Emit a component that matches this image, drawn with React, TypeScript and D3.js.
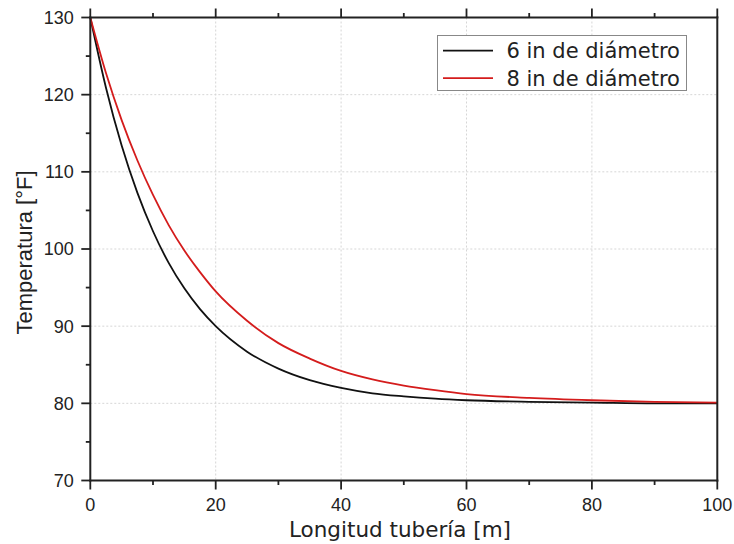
import React, { useRef, useEffect } from 'react';
import * as d3 from 'd3';

// Longitud de tubería [m]
const lengths = [0, 2.5, 5, 7.5, 10, 12.5, 15, 17.5, 20, 25, 30, 35, 40, 45, 50, 55, 60, 70, 80, 90, 100];
// Temperatura [°F], tubería de 6 in
const temp6in = [130, 120.9, 113.4, 107.3, 102.3, 98.2, 94.9, 92.2, 90.0, 86.7, 84.5, 83.0, 82.0, 81.3, 80.9, 80.6, 80.4, 80.2, 80.1, 80.0, 80.0];
// Temperatura [°F], tubería de 8 in
const temp8in = [130, 122.8, 116.7, 111.5, 107.0, 103.1, 99.8, 97.0, 94.5, 90.7, 87.8, 85.8, 84.2, 83.1, 82.3, 81.7, 81.2, 80.7, 80.4, 80.2, 80.1];

const seriesNames = ['6 in de diámetro', '8 in de diámetro'];
const seriesColors = ['#111111', '#d41c1c'];

const xMajorTicks = [0, 20, 40, 60, 80, 100];
const xMinorTicks = [10, 30, 50, 70, 90];
const yMajorTicks = [70, 80, 90, 100, 110, 120, 130];
const yMinorTicks = [75, 85, 95, 105, 115, 125];

const W = 734;
const H = 544;

const App = () => {
  const svgRef = useRef<SVGSVGElement>(null);

  useEffect(() => {
    const svg = d3.select(svgRef.current);
    svg.selectAll('*').remove();

    const left = 90.3, right = 717.3, top = 17.5, bottom = 480.5;
    const x = d3.scaleLinear().domain([0, 100]).range([left, right]);
    const y = d3.scaleLinear().domain([70, 130]).range([bottom, top]);

    svg.append('rect').attr('width', W).attr('height', H).attr('fill', 'white');

    // grid
    const grid = svg.append('g')
      .attr('stroke', '#d6d6d6')
      .attr('stroke-width', 1)
      .attr('stroke-dasharray', '2,2');
    xMajorTicks.slice(1, -1).forEach(t => {
      grid.append('line').attr('x1', x(t)).attr('x2', x(t)).attr('y1', top).attr('y2', bottom);
    });
    yMajorTicks.slice(1, -1).forEach(t => {
      grid.append('line').attr('x1', left).attr('x2', right).attr('y1', y(t)).attr('y2', y(t));
    });

    // curves
    const line = d3.line<number>()
      .x((_, i) => x(lengths[i]))
      .y(d => y(d))
      .curve(d3.curveMonotoneX);

    [temp6in, temp8in].forEach((vals, i) => {
      svg.append('path')
        .datum(vals)
        .attr('d', line)
        .attr('fill', 'none')
        .attr('stroke', seriesColors[i])
        .attr('stroke-width', 1.8);
    });

    // axes
    const axisColor = '#222';
    const axes = svg.append('g').attr('stroke', axisColor).attr('stroke-width', 2);
    axes.append('line').attr('x1', left).attr('x2', left).attr('y1', top - 1).attr('y2', bottom + 1);
    axes.append('line').attr('x1', right).attr('x2', right).attr('y1', top - 1).attr('y2', bottom + 1);
    axes.append('line').attr('x1', left - 1).attr('x2', right + 1).attr('y1', top).attr('y2', top);
    axes.append('line').attr('x1', left - 1).attr('x2', right + 1).attr('y1', bottom).attr('y2', bottom);

    const ticks = svg.append('g').attr('stroke', axisColor).attr('stroke-width', 1.8);
    xMajorTicks.forEach(t => {
      ticks.append('line').attr('x1', x(t)).attr('x2', x(t)).attr('y1', bottom).attr('y2', bottom + 9);
      ticks.append('line').attr('x1', x(t)).attr('x2', x(t)).attr('y1', top).attr('y2', top - 9);
    });
    xMinorTicks.forEach(t => {
      ticks.append('line').attr('x1', x(t)).attr('x2', x(t)).attr('y1', bottom).attr('y2', bottom + 4.5);
      ticks.append('line').attr('x1', x(t)).attr('x2', x(t)).attr('y1', top).attr('y2', top - 4.5);
    });
    yMajorTicks.forEach(t => {
      ticks.append('line').attr('x1', left).attr('x2', left - 9).attr('y1', y(t)).attr('y2', y(t));
    });
    yMinorTicks.forEach(t => {
      ticks.append('line').attr('x1', left).attr('x2', left - 4.5).attr('y1', y(t)).attr('y2', y(t));
    });

    // tick labels
    svg.append('g')
      .selectAll('text')
      .data(xMajorTicks)
      .enter()
      .append('text')
      .attr('x', d => x(d))
      .attr('y', bottom + 30.5)
      .attr('text-anchor', 'middle')
      .style('font-family', '"Liberation Sans", Arial, sans-serif')
      .style('font-size', '18px')
      .style('fill', '#222')
      .text(d => d);

    svg.append('g')
      .selectAll('text')
      .data(yMajorTicks)
      .enter()
      .append('text')
      .attr('x', left - 16.5)
      .attr('y', d => y(d))
      .attr('dy', '0.36em')
      .attr('text-anchor', 'end')
      .style('font-family', '"Liberation Sans", Arial, sans-serif')
      .style('font-size', '18px')
      .style('fill', '#222')
      .text(d => d);

    // axis titles
    svg.append('text')
      .attr('x', 400)
      .attr('y', 537)
      .attr('text-anchor', 'middle')
      .style('font-family', '"DejaVu Sans", sans-serif')
      .style('font-size', '21.5px')
      .style('fill', '#222')
      .text('Longitud tubería [m]');

    svg.append('text')
      .attr('transform', 'translate(32, 252.5) rotate(-90)')
      .attr('text-anchor', 'middle')
      .style('font-family', '"Liberation Sans", Arial, sans-serif')
      .style('font-size', '22px')
      .style('fill', '#222')
      .text('Temperatura [°F]');

    // legend
    const legend = svg.append('g');
    legend.append('rect')
      .attr('x', 437.5).attr('y', 35.5)
      .attr('width', 249).attr('height', 55)
      .attr('fill', 'white')
      .attr('stroke', '#888')
      .attr('stroke-width', 1);
    seriesNames.forEach((name, i) => {
      const ly = 50.7 + i * 27.5;
      legend.append('line')
        .attr('x1', 443).attr('x2', 493)
        .attr('y1', ly).attr('y2', ly)
        .attr('stroke', seriesColors[i])
        .attr('stroke-width', 1.8);
      legend.append('text')
        .attr('x', 506.5)
        .attr('y', ly + 7.3)
        .style('font-family', '"DejaVu Sans", sans-serif')
        .style('font-size', '21px')
        .style('fill', '#222')
        .text(name);
    });
  }, []);

  return (
    <div style={{ position: 'absolute', left: 0, top: 0 }}>
      <svg ref={svgRef} width={W} height={H}></svg>
    </div>
  );
};

export default App;
